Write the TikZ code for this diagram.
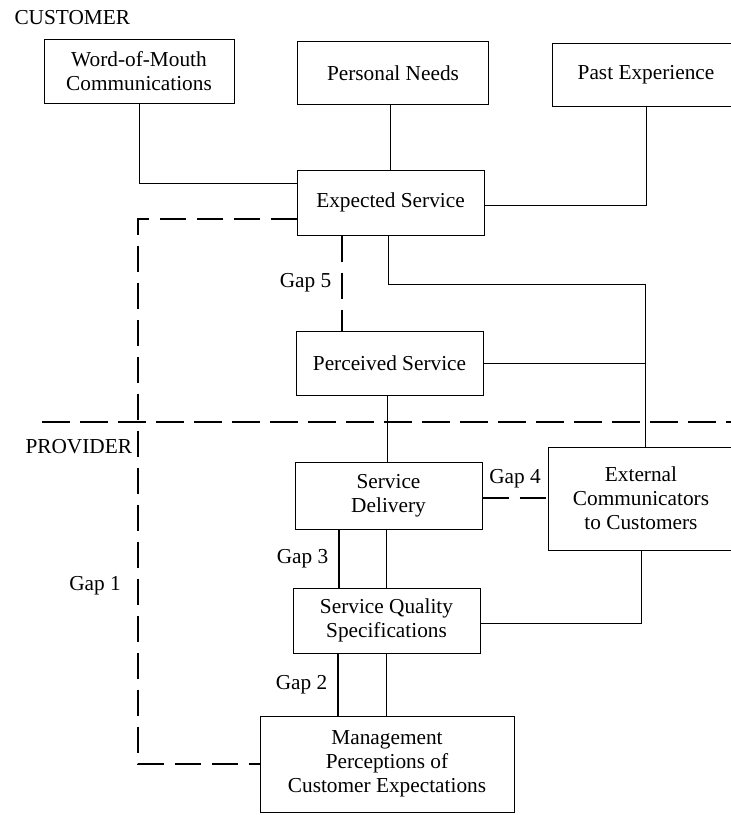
\documentclass[tikz,border=0pt]{standalone}
\usepackage{fontspec}
\setmainfont{Liberation Serif}
\tikzset{
  box/.style={draw, line width=1pt, align=center, inner sep=0pt, font=\fontsize{21.3}{24}\selectfont},
  lbl/.style={font=\fontsize{21.3}{24}\selectfont},
  link/.style={line width=0.8pt},
  gap/.style={line width=2.8pt, dash pattern=on 26pt off 11pt},
  gapsolid/.style={line width=2.8pt},
  divider/.style={line width=2.8pt, dash pattern=on 28pt off 10pt}
}

\begin{document}
\begin{tikzpicture}[x=1pt,y=-1pt]
    \useasboundingbox (0,0) rectangle (731,815);
    \clip (0,0) rectangle (731,815);
    %Customer
    \node[lbl, anchor=west] (customer) at (11,18) {CUSTOMER};
    \node[box, minimum width=190pt, minimum height=64pt] (wom) at (139,71) {Word-of-Mouth\\Communications};
    \node[box, minimum width=191pt, minimum height=63pt] (pn) at (393,73) {Personal Needs};
    \node[box, minimum width=188pt, minimum height=63pt] (pe) at (646,75) {Past Experience};
    \node[box, minimum width=187pt, minimum height=65pt] (es) at (390.5,202.5) {Expected Service};
    \node[box, minimum width=187pt, minimum height=64pt] (ps) at (389.5,363) {Perceived Service};
    %Divider
    \coordinate (divl) at (42,422);
    \coordinate (divr) at (731,422);
    \draw[divider] (divl) -- (divr);
    %Provider
    \node[lbl, anchor=west] (provider) at (22,447) {PROVIDER};
    \node[box, minimum width=187pt, minimum height=67pt] (sd) at (388.5,495.5) {Service\\Delivery};
    \node[box, minimum width=186pt, minimum height=103pt] (ec) at (641,498.5) {External\\Communicators\\to Customers};
    \node[box, minimum width=187pt, minimum height=65pt] (sqs) at (386.5,620.5) {Service Quality\\Specifications};
    \node[box, minimum width=254pt, minimum height=96pt] (mgmt) at (387,764) {Management\\Perceptions of\\Customer Expectations};
    %Links
    \coordinate (riser) at (645,284);
    \draw[link] (wom.south) |- ([yshift=19.5pt]es.west);
    \draw[link] (es.north |- pn.south) -- (es.north);
    \draw[link] (pe.south) |- ([yshift=-2.5pt]es.east);
    \draw[link] ([xshift=-2pt]es.south) |- (riser) -- (riser |- ec.north);
    \draw[link] (ps.east) -- (ps.east -| riser);
    \draw[link] ([xshift=-2pt]ps.south) -- ([xshift=-2pt]ps.south |- sd.north);
    \draw[link] (sqs.north |- sd.south) -- (sqs.north);
    \draw[link] ([yshift=-2.5pt]sqs.east) -| (ec.south);
    \draw[link] (sqs.south) -- (sqs.south |- mgmt.north);
    %Gaps
    \coordinate (gapcorner) at (138,0);
    \draw[gap] ([yshift=-16.5pt]es.west) -| (gapcorner |- mgmt.west) -- (mgmt.west);
    \node[lbl] (gap1) at (95,586) {Gap 1};
    \draw[gapsolid] ([xshift=-48.5pt]sqs.south) -- node[lbl, left=6pt] (gap2) {Gap 2} ([xshift=-48.5pt]sqs.south |- mgmt.north);
    \draw[gapsolid] ([xshift=-49.5pt]sd.south) -- node[lbl, left=6pt] (gap3) {Gap 3} ([xshift=-49.5pt]sd.south |- sqs.north);
    \draw[gap] ([yshift=-2.5pt]sd.east) -- node[lbl, above=5pt] (gap4) {Gap 4} ([yshift=-2.5pt]sd.east -| ec.west);
    \draw[gap] ([xshift=-48.5pt]es.south) -- node[lbl, left=6pt] (gap5) {Gap 5} ([xshift=-48.5pt]es.south |- ps.north);
\end{tikzpicture}
\end{document}
